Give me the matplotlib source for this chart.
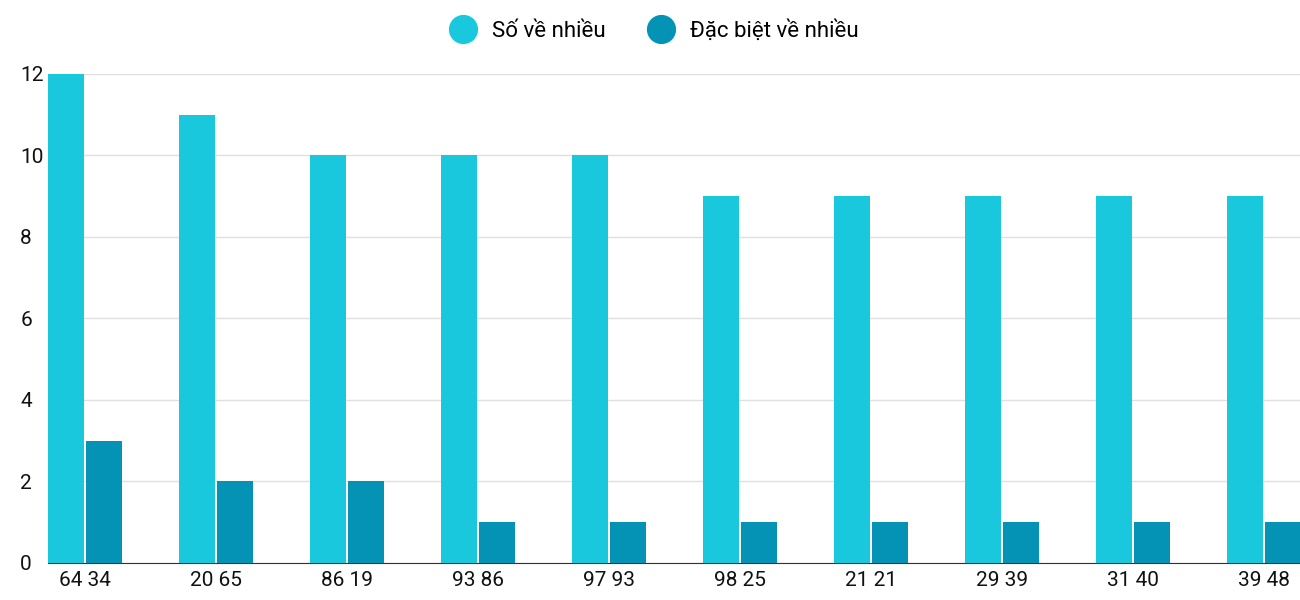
import matplotlib
matplotlib.use("Agg")
import matplotlib.pyplot as plt
from matplotlib.lines import Line2D

categories = ["64 34", "20 65", "86 19", "93 86", "97 93", "98 25", "21 21", "29 39", "31 40", "39 48"]
so_ve_nhieu = [12, 11, 10, 10, 10, 9, 9, 9, 9, 9]
dac_biet = [3, 2, 2, 1, 1, 1, 1, 1, 1, 1]

plt.rcParams['font.family'] = ['Roboto', 'DejaVu Sans']
c1, c2 = "#19C8DC", "#0493B5"

fig = plt.figure(figsize=(13, 6), dpi=100)
ax = fig.add_axes([0.037, 0.062, 0.963, 0.815])
x = list(range(len(categories)))
w = 0.275
ax.bar([i - 0.145 for i in x], so_ve_nhieu, w, color=c1, zorder=3)
ax.bar([i + 0.145 for i in x], dac_biet, w, color=c2, zorder=3)
ax.set_xlim(-0.282, 9.275)
ax.set_ylim(0, 12)
ax.set_yticks(range(0, 13, 2))
ax.set_xticks(x)
ax.set_xticklabels(categories)
ax.grid(axis='y', color='#e0e0e0', lw=1, zorder=0)
for s in ['top', 'right', 'left']:
    ax.spines[s].set_visible(False)
ax.spines['bottom'].set_color('#333333')
ax.tick_params(axis='both', length=0, labelsize=15, colors='#111111')
ax.tick_params(axis='y', pad=20)
ax.tick_params(axis='x', pad=6)
for lab in ax.get_yticklabels():
    lab.set_horizontalalignment('left')
handles = [Line2D([], [], marker='o', ls='', markersize=20, color=c1),
           Line2D([], [], marker='o', ls='', markersize=20, color=c2)]
fig.legend(handles, ["Số về nhiều", "Đặc biệt về nhiều"], loc='upper center',
           bbox_to_anchor=(0.5, 1.0), ncol=2, frameon=False, fontsize=16,
           handletextpad=0.3, columnspacing=1.5)
fig.savefig("out.png")
